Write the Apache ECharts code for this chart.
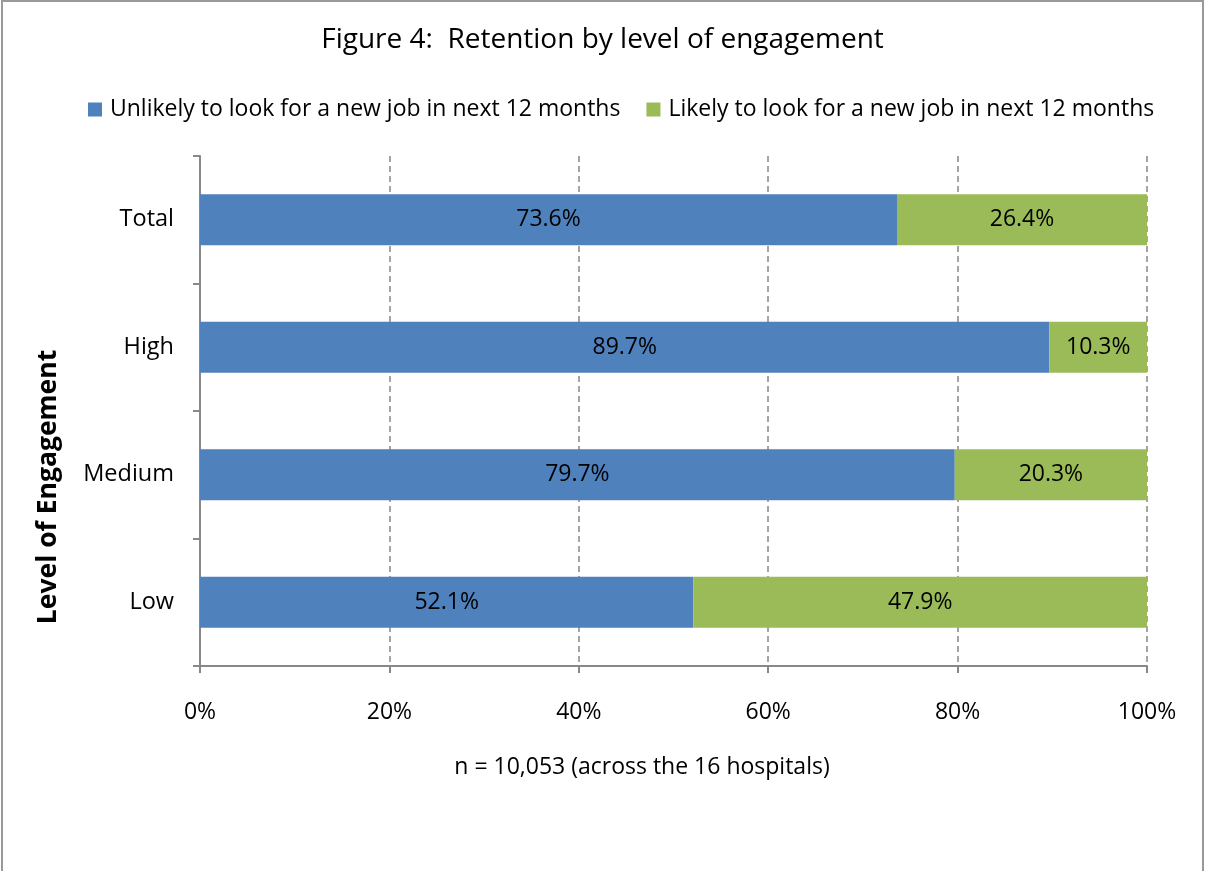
<!DOCTYPE html>
<html>
<head>
<meta charset="utf-8">
<script src="https://cdn.jsdelivr.net/npm/echarts@6/dist/echarts.min.js"></script>
<style>
html,body{margin:0;padding:0;background:#fff;}
#c{width:1205px;height:871px;}
</style>
</head>
<body>
<div id="c"></div>
<script>
var categories = ['Low', 'Medium', 'High', 'Total'];
var unlikely = [52.1, 79.7, 89.7, 73.6];
var likely = [47.9, 20.3, 10.3, 26.4];
var seriesNames = ['Unlikely to look for a new job in next 12 months', 'Likely to look for a new job in next 12 months'];
var xTicks = [0, 20, 40, 60, 80, 100];

var FONT = "'Open Sans', 'Liberation Sans', Arial, sans-serif";
var chart = echarts.init(document.getElementById('c'));
var labelOpt = {
  show: true, position: 'inside', color: '#000', fontSize: 23, fontFamily: FONT,
  formatter: function (p) { return p.value.toFixed(1) + '%'; }
};
chart.setOption({
  animation: false,
  textStyle: { fontFamily: FONT },
  title: {
    text: 'Figure 4:  Retention by level of engagement',
    left: 'center', top: 21,
    textStyle: { fontSize: 28, fontWeight: 'normal', color: '#000', fontFamily: FONT }
  },
  legend: {
    top: 93, left: 83,
    itemWidth: 14, itemHeight: 14, itemGap: 26,
    icon: 'rect',
    textStyle: { fontSize: 23, color: '#000', fontFamily: FONT, padding: [0, 0, 0, 3] },
    data: seriesNames
  },
  grid: { left: 200, right: 58, top: 156, bottom: 205, containLabel: false },
  xAxis: {
    type: 'value', min: 0, max: 100, interval: 20,
    axisLine: { show: true, lineStyle: { color: '#888', width: 2 } },
    axisTick: { show: true, length: 7, lineStyle: { color: '#888', width: 2 } },
    axisLabel: { margin: 35, fontSize: 23, color: '#000', fontFamily: FONT,
      formatter: function (v) { return xTicks.indexOf(v) >= 0 ? v + '%' : ''; } },
    splitLine: { show: true, lineStyle: { color: '#888', type: [6, 4], width: 1.5 } }
  },
  yAxis: {
    type: 'category', data: categories,
    axisLine: { show: true, lineStyle: { color: '#888', width: 2 } },
    axisTick: { show: true, length: 7, alignWithLabel: false, lineStyle: { color: '#888', width: 2 } },
    axisLabel: { margin: 26, fontSize: 23.5, color: '#000', fontFamily: FONT },
    splitLine: { show: false }
  },
  series: [
    { name: seriesNames[0], type: 'bar', stack: 'a', data: unlikely, barWidth: '40%',
      itemStyle: { color: '#4F81BD' }, label: labelOpt },
    { name: seriesNames[1], type: 'bar', stack: 'a', data: likely, barWidth: '40%',
      itemStyle: { color: '#9BBB59' }, label: labelOpt }
  ],
  graphic: [
    { type: 'rect', shape: { x: 2, y: 1, width: 1201, height: 920 },
      style: { fill: 'none', stroke: '#999', lineWidth: 2 }, silent: true },
    { type: 'text', x: 48, y: 487, rotation: Math.PI / 2,
      style: { text: 'Level of Engagement', font: "bold 26.5px " + FONT, fill: '#000',
        textAlign: 'center', textVerticalAlign: 'middle' } },
    { type: 'text', x: 642, y: 767,
      style: { text: 'n = 10,053 (across the 16 hospitals)', font: "23px " + FONT, fill: '#000',
        textAlign: 'center', textVerticalAlign: 'middle' } }
  ]
});
</script>
</body>
</html>
